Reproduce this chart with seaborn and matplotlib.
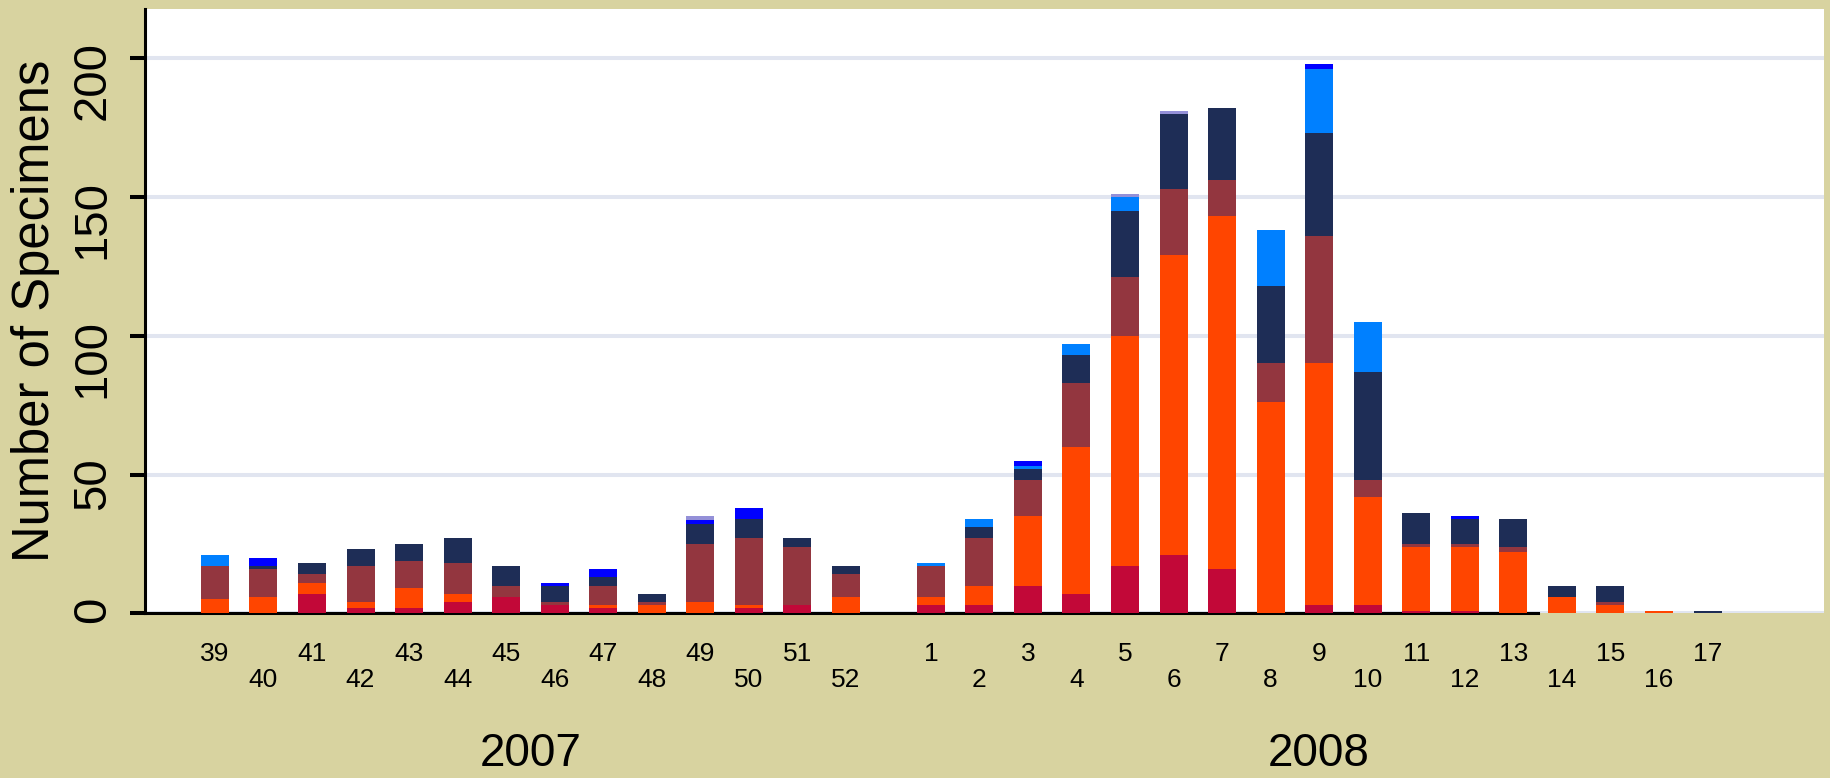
import numpy as np
import pandas as pd
import matplotlib
matplotlib.use("Agg")
import matplotlib.pyplot as plt
import matplotlib.transforms as mtransforms
import seaborn as sns

# ---------------- data ----------------
weeks_2007 = [39, 40, 41, 42, 43, 44, 45, 46, 47, 48, 49, 50, 51, 52]
weeks_2008 = [1, 2, 3, 4, 5, 6, 7, 8, 9, 10, 11, 12, 13, 14, 15, 16, 17]
year_labels = ["2007", "2008"]
y_ticks = [0, 50, 100, 150, 200]
y_label = "Number of Specimens"

# stacked series, bottom to top (weeks 39..52 of 2007, then 1..17 of 2008)
series_1 = [0, 0, 7, 2, 2, 4, 6, 3, 2, 0, 0, 2, 3, 0,
            3, 3, 10, 7, 17, 21, 16, 0, 3, 3, 1, 1, 0, 0, 0, 0, 0]
series_2 = [5, 6, 4, 2, 7, 3, 0, 0, 1, 3, 4, 1, 0, 6,
            3, 7, 25, 53, 83, 108, 127, 76, 87, 39, 23, 23, 22, 6, 3, 1, 0]
series_3 = [12, 10, 3, 13, 10, 11, 4, 1, 7, 1, 21, 24, 21, 8,
            11, 17, 13, 23, 21, 24, 13, 14, 46, 6, 1, 1, 2, 0, 1, 0, 0]
series_4 = [0, 1, 4, 6, 6, 9, 7, 6, 3, 3, 7, 7, 3, 3,
            0, 4, 4, 10, 24, 27, 26, 28, 37, 39, 11, 9, 10, 4, 6, 0, 1]
series_5 = [4, 0, 0, 0, 0, 0, 0, 0, 0, 0, 0, 0, 0, 0,
            1, 3, 1, 4, 5, 0, 0, 20, 23, 18, 0, 0, 0, 0, 0, 0, 0]
series_6 = [0, 3, 0, 0, 0, 0, 0, 1, 3, 0, 1.5, 4, 0, 0,
            0, 0, 2, 0, 0, 0, 0, 0, 2, 0, 0, 1, 0, 0, 0, 0, 0]
series_7 = [0, 0, 0, 0, 0, 0, 0, 0, 0, 0, 1.5, 0, 0, 0,
            0, 0, 0, 0, 1, 1, 0, 0, 0, 0, 0, 0, 0, 0, 0, 0, 0]

series = [series_1, series_2, series_3, series_4, series_5, series_6, series_7]
colors = ["#C20838", "#FF4500", "#93363F", "#1E2D56", "#0080FF", "#0000FF", "#9490D8"]

BG = "#D8D3A0"
GRID = "#E1E5F0"

# ---------------- layout helpers ----------------
gap = 1.75  # slot distance between week 52 and week 1
pos_2007 = np.arange(len(weeks_2007), dtype=float)
pos_2008 = pos_2007[-1] + gap + np.arange(len(weeks_2008), dtype=float)
x_pos = np.concatenate([pos_2007, pos_2008])

tick_labels = []
for grp in (weeks_2007, weeks_2008):
    for i, w in enumerate(grp):
        tick_labels.append(str(w) if i % 2 == 0 else "\n" + str(w))

df = pd.DataFrame({"pos": x_pos})
stack = np.cumsum(np.array(series, dtype=float), axis=0)

# ---------------- plot ----------------
sns.set_theme(style="white")
plt.rcParams["font.family"] = ["Liberation Sans", "DejaVu Sans"]

W, H = 1830, 778
fig = plt.figure(figsize=(W / 100, H / 100), dpi=100)
fig.patch.set_facecolor(BG)
ax_left, ax_right, ax_top, ax_zero = 145, 1824, 9, 613.3
ax = fig.add_axes([ax_left / W, 1 - ax_zero / H, (ax_right - ax_left) / W, (ax_zero - ax_top) / H])
ax.set_facecolor("white")
ax.set_axisbelow(True)

for i in range(len(series) - 1, -1, -1):
    df["cum"] = stack[i]
    sns.barplot(data=df, x="pos", y="cum", color=colors[i], saturation=1,
                width=0.577, native_scale=True, orient="x", errorbar=None,
                linewidth=0, ax=ax, zorder=3)

ax.set_xlim(-1.44, x_pos[-1] + 2.4)
ax.set_ylim(0, 217.7)

# y axis
ax.set_yticks(y_ticks)
ax.set_yticklabels([str(t) for t in y_ticks])
ax.tick_params(axis="y", left=True, direction="out", length=10.8, width=2.9,
               color="black", labelsize=34, labelrotation=90, pad=11, labelcolor="black")
ax.yaxis.grid(True, color=GRID, linewidth=2.9)
ax.xaxis.grid(False)
ax.set_ylabel(y_label, fontsize=36.5, color="black")
ax.yaxis.set_label_coords((60 - ax_left) / (ax_right - ax_left), 0.5)

# x axis
ax.set_xticks(x_pos)
ax.set_xticklabels(tick_labels)
ax.tick_params(axis="x", bottom=True, length=0, labelsize=19, pad=20.5, labelcolor="black")
for lab in ax.get_xticklabels():
    lab.set_linespacing(1.1)
ax.set_xlabel("")

# spines
for s in ["top", "right"]:
    ax.spines[s].set_visible(False)
ax.spines["left"].set_color("black")
ax.spines["left"].set_linewidth(2.2)
ax.spines["bottom"].set_color("black")
ax.spines["bottom"].set_linewidth(2.2)
idx13 = len(weeks_2007) + weeks_2008.index(13)
ax.spines["bottom"].set_bounds(ax.get_xlim()[0], (x_pos[idx13] + x_pos[idx13 + 1]) / 2)

# year labels
trans = mtransforms.blended_transform_factory(ax.transData, ax.transAxes)
y_year = (ax_zero - 766) / (ax_zero - ax_top)
for lab, grp in zip(year_labels, (pos_2007, pos_2008)):
    ax.text((grp[0] + grp[-1]) / 2, y_year, lab, transform=trans, ha="center",
            va="baseline", fontsize=33, color="black")

fig.savefig("out.png", dpi=100, facecolor=BG)
